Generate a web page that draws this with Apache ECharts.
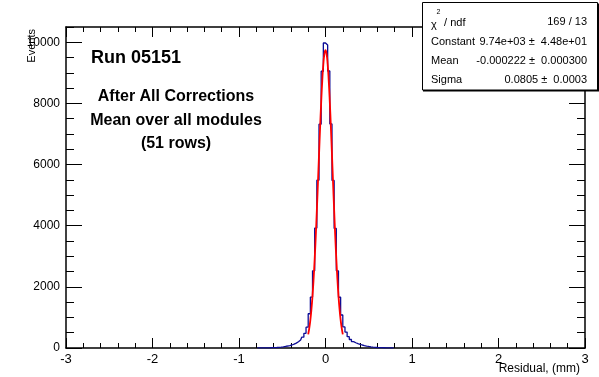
<!DOCTYPE html>
<html><head><meta charset="utf-8">
<script src="https://cdn.jsdelivr.net/npm/echarts@6/dist/echarts.min.js"></script>
<style>html,body{margin:0;padding:0;background:#fff}#c{width:599px;height:377px}</style>
</head><body><div id="c"></div>
<script>
// Histogram: bins of width 0.025 starting at -0.8 (bins outside are empty)
const histLow = -0.8;
const binWidth = 0.025;
const counts = [
  2, 3, 3, 4, 5, 7, 8, 10, 13, 17, 22, 30,
  40, 52, 65, 80, 98, 125, 160, 205, 262, 355, 480, 680,
  1120, 1667, 2526, 3922, 5490, 7320, 9052, 9977,
  9912, 9060, 7330, 5480, 3910, 2526, 1660, 1080,
  690, 520, 370, 278, 210, 172, 145, 120, 98, 80, 64, 50,
  38, 29, 22, 17, 13, 10, 8, 6, 5, 4, 3, 2
];
const fitX = [-0.2,-0.1875,-0.175,-0.1625,-0.15,-0.1375,-0.125,-0.1125,-0.1,-0.0875,-0.075,-0.0625,-0.05,-0.0375,-0.025,-0.0125,
  0,0.0125,0.025,0.0375,0.05,0.0625,0.075,0.0875,0.1,0.1125,0.125,0.1375,0.15,0.1625,0.175,0.1875,0.2];
const fitY = [445,647,917,1270,1716,2265,2917,3668,4503,5395,6311,7206,8032,8739,9281,9623,
  9740,9623,9281,8739,8032,7206,6311,5395,4503,3668,2917,2265,1716,1270,917,647,445];
const xRange = [-3, 3];
const yRange = [0, 10500];
const statsLabels = ['Constant', 'Mean', 'Sigma'];
const statsValues = ['9.74e+03 \u00b1  4.48e+01', '-0.000222 \u00b1  0.000300', '0.0805 \u00b1  0.0003'];
const chiText = '169 / 13';

const FF = '"Liberation Sans", Arial, Helvetica, sans-serif';
const histData = counts.map((v, i) => [histLow + (i + 0.5) * binWidth, v]);
const fitData = fitX.map((x, i) => [x, fitY[i]]);

const black = '#000';
function xAx(pos, labels) {
  return {
    type: 'value', position: pos, min: xRange[0], max: xRange[1], interval: 1,
    axisLine: { show: true, onZero: false, lineStyle: { color: black, width: 1.5 } },
    axisTick: { show: true, inside: true, length: 10, lineStyle: { color: black, width: 1 } },
    minorTick: { show: true, splitNumber: 5, length: 5, lineStyle: { color: black, width: 1 } },
    axisLabel: { show: labels, fontSize: 13, color: black, margin: 5, fontFamily: FF, formatter: v => String(v) },
    splitLine: { show: false }, minorSplitLine: { show: false }
  };
}
function yAx(pos, major, labels) {
  return {
    type: 'value', position: pos, min: yRange[0], max: yRange[1], interval: major ? 2000 : 500,
    axisLine: { show: major, onZero: false, lineStyle: { color: black, width: 1.5 } },
    axisTick: { show: true, inside: true, length: major ? 16 : 8, lineStyle: { color: black, width: 1 } },
    axisLabel: { show: labels, showMaxLabel: false, fontSize: 12, color: black, margin: 6, fontFamily: FF,
      formatter: v => String(v) },
    splitLine: { show: false }
  };
}

const chart = echarts.init(document.getElementById('c'), null, { renderer: 'canvas' });
const txt = (x, y, text, size, opts) => Object.assign({
  type: 'text', x: x, y: y, z: 100,
  style: Object.assign({ text: text, fill: black, font: (opts && opts.bold ? 'bold ' : '') + size + 'px ' + FF,
    textAlign: 'left', textVerticalAlign: 'middle' }, (opts && opts.style) || {})
}, (opts && opts.extra) || {});

const graphics = [
  // stats box shadow + box
  { type: 'rect', z: 98, shape: { x: 423, y: 3.5, width: 176, height: 88 }, style: { fill: black } },
  { type: 'rect', z: 99, shape: { x: 422.5, y: 2.5, width: 175, height: 87.5 }, style: { fill: '#fff', stroke: black, lineWidth: 1 } },
  txt(431, 24.5, '\u03c7', 11),
  txt(436.5, 12.5, '2', 7),
  txt(441, 22.5, ' / ndf', 11),
  txt(587, 22, chiText, 11, { style: { textAlign: 'right' } }),
  // annotations in pad
  txt(91, 58, 'Run 05151', 18, { bold: true }),
  txt(176, 97, 'After All Corrections', 16, { bold: true, style: { textAlign: 'center' } }),
  txt(176, 121, 'Mean over all modules', 16, { bold: true, style: { textAlign: 'center' } }),
  txt(176, 144, '(51 rows)', 16, { bold: true, style: { textAlign: 'center' } }),
  // axis titles
  txt(580, 369, 'Residual, (mm)', 12, { style: { textAlign: 'right' } }),
  txt(32, 29, 'Events', 11, { style: { textAlign: 'right' }, extra: { rotation: Math.PI / 2 } })
];
statsLabels.forEach((l, i) => {
  graphics.push(txt(431, 41.5 + i * 19, l, 11));
  graphics.push(txt(587, 41.5 + i * 19, statsValues[i], 11, { style: { textAlign: 'right' } }));
});

chart.setOption({
  animation: false,
  backgroundColor: '#fff',
  grid: { left: 66, right: 14, top: 27, bottom: 29, containLabel: false },
  xAxis: [xAx('bottom', true), xAx('top', false)],
  yAxis: [yAx('left', true, true), yAx('left', false, false), yAx('right', true, false), yAx('right', false, false)],
  series: [
    { type: 'line', name: 'hist', data: histData, step: 'middle', showSymbol: false, symbol: 'none',
      xAxisIndex: 0, yAxisIndex: 0, lineStyle: { color: '#0c0c96', width: 1.3 }, z: 3 },
    { type: 'line', name: 'fit', data: fitData, smooth: true, showSymbol: false, symbol: 'none',
      xAxisIndex: 0, yAxisIndex: 0, lineStyle: { color: '#ff0000', width: 1.8 }, z: 4 }
  ],
  graphic: graphics
});
</script></body></html>
